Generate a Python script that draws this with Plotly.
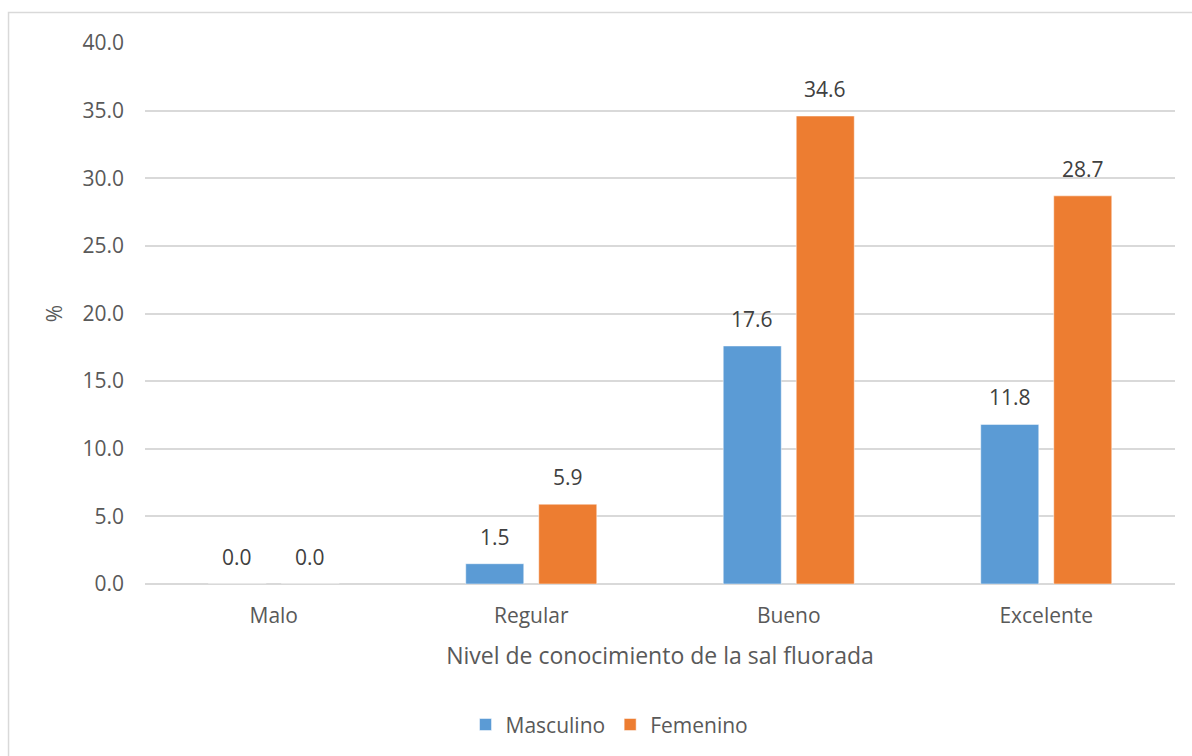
import plotly.graph_objects as go

categories = ["Malo", "Regular", "Bueno", "Excelente"]
masculino = [0.0, 1.5, 17.6, 11.8]
femenino = [0.0, 5.9, 34.6, 28.7]
y_ticks = [0, 5, 10, 15, 20, 25, 30, 35, 40]
y_tick_labels = ["0.0", "5.0", "10.0", "15.0", "20.0", "25.0", "30.0", "35.0", "40.0"]

FONT = "'Open Sans', sans-serif"
TEXT = "#595959"
LABEL = "#404040"

series = [("Masculino", masculino, "#5b9bd5"), ("Femenino", femenino, "#ed7d31")]

fig = go.Figure()
for name, values, color in series:
    fig.add_trace(go.Bar(
        name=name, x=categories, y=values,
        marker=dict(color=color, line=dict(color="#ffffff", width=0.5)),
        offsetgroup=name,
    ))

# value labels above each bar, offset by bar position within the group
group_w = 1 - 0.433
for i, (name, values, color) in enumerate(series):
    off = (i - 0.5) * group_w / len(series)
    for j, v in enumerate(values):
        fig.add_annotation(
            x=j + off, y=v, xref="x", yref="y", text=f"{v:.1f}",
            showarrow=False, yanchor="bottom", yshift=11,
            font=dict(size=21, color=LABEL, family=FONT),
        )

fig.update_layout(
    width=1192, height=756,
    margin=dict(l=145, r=17, t=43, b=171),
    paper_bgcolor="white", plot_bgcolor="white",
    font=dict(family=FONT, color=TEXT, size=21),
    barmode="group", bargap=0.433, bargroupgap=0.205,
    showlegend=True,
    legend=dict(orientation="h", x=0.451, xanchor="center", y=-0.258, yanchor="middle",
                font=dict(size=21, color=TEXT), traceorder="normal",
                itemwidth=30, tracegroupgap=0),
    xaxis=dict(
        title=dict(text="Nivel de conocimiento de la sal fluorada", font=dict(size=23, color=TEXT), standoff=19),
        tickfont=dict(size=21, color=TEXT), showgrid=False, showline=False, ticks="",
        ticklabelstandoff=17, range=[-0.5, 3.5],
    ),
    yaxis=dict(
        title=dict(text="%", font=dict(size=21, color=TEXT), standoff=14),
        range=[0, 40], tickvals=y_ticks, ticktext=y_tick_labels,
        tickfont=dict(size=21, color=TEXT), ticklabelstandoff=20,
        showgrid=True, gridcolor="#d9d9d9", gridwidth=1.5,
        zeroline=True, zerolinecolor="#d9d9d9", zerolinewidth=1.5, showline=False,
    ),
    shapes=[dict(type="rect", xref="paper", yref="paper",
                 x0=-0.1325, x1=1.03, y0=-0.35, y1=1.0563,
                 line=dict(color="#d9d9d9", width=1.5), fillcolor="rgba(0,0,0,0)", layer="below")],
)

fig.write_html("out.html")
